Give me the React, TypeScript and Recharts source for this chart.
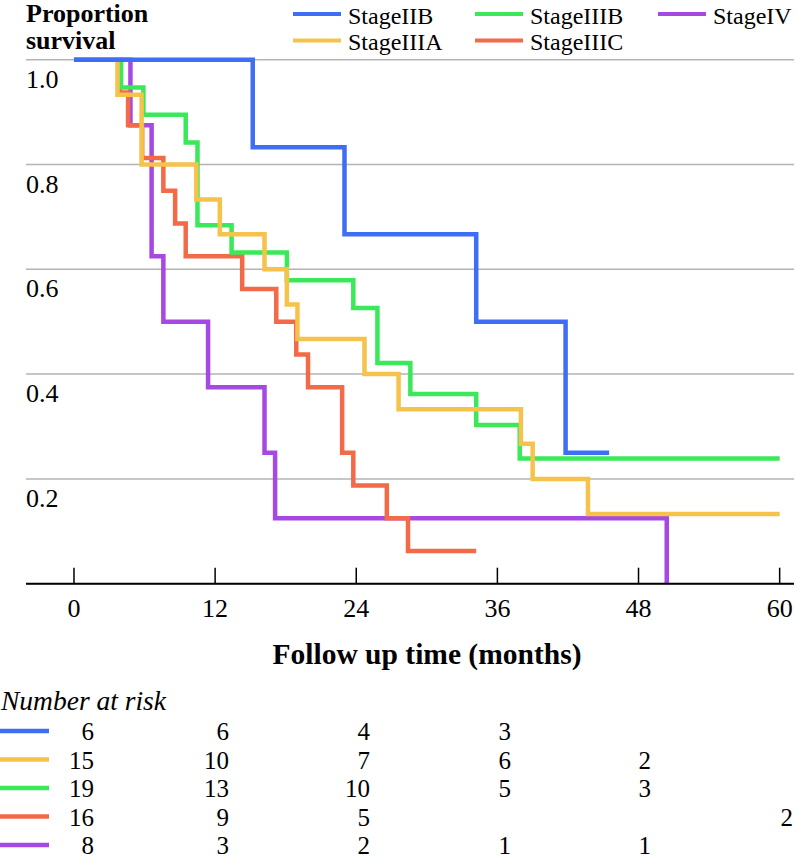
import { LineChart, Line, XAxis, YAxis, CartesianGrid } from "recharts";

// Kaplan-Meier curves, survival by stage (months)
const stageNames = ["StageIIB", "StageIIIA", "StageIIIB", "StageIIIC", "StageIV"];
const stageColors = ["#3d6ef5", "#f5c24c", "#3be85a", "#f26a47", "#a649e3"];

const iibTimes = [0, 15.2, 23, 34.2, 41.8, 45.5];
const iibSurv = [1, 0.833, 0.667, 0.5, 0.25, 0.25];

const iiiaTimes = [0, 3.7, 5.75, 10.4, 12.4, 16.2, 18.1, 19.0, 24.7, 27.6, 38.0, 39.0, 43.7, 60];
const iiiaSurv = [1, 0.933, 0.8, 0.733, 0.667, 0.6, 0.533, 0.467, 0.4, 0.333, 0.267, 0.2, 0.133, 0.133];

const iiibTimes = [0, 4.0, 5.9, 9.5, 10.5, 13.4, 18.1, 23.75, 25.8, 28.6, 34.2, 37.9, 60];
const iiibSurv = [1, 0.947, 0.895, 0.842, 0.684, 0.632, 0.579, 0.526, 0.421, 0.362, 0.303, 0.239, 0.239];

const iiicTimes = [0, 3.9, 4.6, 5.8, 7.6, 8.6, 9.5, 14.3, 17.2, 18.9, 19.9, 22.8, 23.75, 26.6, 28.4, 34.2];
const iiicSurv = [1, 0.9375, 0.875, 0.8125, 0.75, 0.6875, 0.625, 0.5625, 0.5, 0.4375, 0.375, 0.25, 0.1875, 0.125, 0.0625, 0.0625];

const ivTimes = [0, 4.8, 6.6, 7.6, 11.4, 16.2, 17.1, 50.4];
const ivSurv = [1, 0.875, 0.625, 0.5, 0.375, 0.25, 0.125, 0];

const xTicks = [0, 12, 24, 36, 48, 60];
const yTicks = [0.2, 0.4, 0.6, 0.8, 1.0];

// number at risk at 0/12/24/36/48/60 months
const riskIIB = [6, 6, 4, 3, null, null];
const riskIIIA = [15, 10, 7, 6, 2, null];
const riskIIIB = [19, 13, 10, 5, 3, null];
const riskIIIC = [16, 9, 5, null, null, 2];
const riskIV = [8, 3, 2, 1, 1, null];

const FONT = "'Liberation Serif', 'Times New Roman', serif";

function toSteps(times: number[], surv: number[]) {
  return times.map((t, i) => ({ t, s: surv[i] }));
}

const curves = [
  toSteps(iibTimes, iibSurv),
  toSteps(iiiaTimes, iiiaSurv),
  toSteps(iiibTimes, iiibSurv),
  toSteps(iiicTimes, iiicSurv),
  toSteps(ivTimes, ivSurv),
];
const riskRows = [riskIIB, riskIIIA, riskIIIB, riskIIIC, riskIV];

// right edge of each at-risk column
const riskColRight = [94, 229, 370, 511, 651, 793];

function XTick(props: any) {
  const { x, y, payload } = props;
  return (
    <g>
      <line x1={x} x2={x} y1={y - 16} y2={y} stroke="#000" strokeWidth={1.5} />
      <text x={x} y={y + 33} textAnchor="middle" fontFamily={FONT} fontSize={26} fill="#000">
        {payload.value}
      </text>
    </g>
  );
}

function YTick(props: any) {
  const { y, payload } = props;
  return (
    <text x={26} y={y + 28} textAnchor="start" fontFamily={FONT} fontSize={26} fill="#000">
      {Number(payload.value).toFixed(1)}
    </text>
  );
}

export default function App() {
  // draw order: StageIV first, StageIIB on top
  const order = [4, 3, 2, 1, 0];

  return (
    <div style={{ position: "relative", width: 796, height: 860, background: "#fff" }}>
      <style>{`body{margin:0;background:#fff}`}</style>
      <LineChart
        width={796}
        height={860}
        margin={{ top: 59.7, right: 2, bottom: 275.3, left: 26 }}
      >
        <CartesianGrid horizontal vertical={false} stroke="#b3b3b3" strokeWidth={1.5} />
        <XAxis
          type="number"
          dataKey="t"
          domain={[-4.08, 61.22]}
          ticks={xTicks}
          height={1}
          tickSize={0}
          tickMargin={0}
          tickLine={false}
          axisLine={{ stroke: "#000", strokeWidth: 2 }}
          tick={<XTick />}
          interval={0}
        />
        <YAxis
          type="number"
          domain={[0, 1]}
          ticks={yTicks}
          width={1}
          mirror
          tickSize={0}
          tickMargin={0}
          axisLine={false}
          tickLine={false}
          tick={<YTick />}
          interval={0}
        />
        {order.map((i) => (
          <Line
            key={stageNames[i]}
            data={curves[i]}
            dataKey="s"
            name={stageNames[i]}
            type="stepAfter"
            stroke={stageColors[i]}
            strokeWidth={4.5}
            dot={false}
            activeDot={false}
            isAnimationActive={false}
          />
        ))}
      </LineChart>

      <svg
        width={796}
        height={860}
        style={{ position: "absolute", left: 0, top: 0, pointerEvents: "none" }}
      >
        {/* y label */}
        <text x={26} y={22} fontFamily={FONT} fontWeight="bold" fontSize={26} fill="#000">
          Proportion
        </text>
        <text x={26} y={49} fontFamily={FONT} fontWeight="bold" fontSize={26} fill="#000">
          survival
        </text>

        {/* legend */}
        {stageNames.map((name, i) => {
          const col = [0, 0, 1, 1, 2][i];
          const row = [0, 1, 0, 1, 0][i];
          const lx = [293, 475, 658][col];
          const ly = [14, 40.5][row];
          return (
            <g key={name}>
              <line x1={lx} x2={lx + 48} y1={ly} y2={ly} stroke={stageColors[i]} strokeWidth={4} />
              <text x={lx + 55} y={ly + 9.5} fontFamily={FONT} fontSize={24} fill="#000">
                {name}
              </text>
            </g>
          );
        })}

        {/* x title */}
        <text x={427} y={664} textAnchor="middle" fontFamily={FONT} fontWeight="bold" fontSize={29.5} fill="#000">
          Follow up time (months)
        </text>

        {/* number at risk */}
        <text x={1} y={710} fontFamily={FONT} fontStyle="italic" fontSize={27.5} fill="#000">
          Number at risk
        </text>
        {riskRows.map((row, r) => {
          const cy = 731 + r * 28.5;
          return (
            <g key={r}>
              <line x1={0} x2={49} y1={cy} y2={cy} stroke={stageColors[r]} strokeWidth={4.5} />
              {row.map((v, c) =>
                v == null ? null : (
                  <text
                    key={c}
                    x={riskColRight[c]}
                    y={cy + 9}
                    textAnchor="end"
                    fontFamily={FONT}
                    fontSize={25}
                    fill="#000"
                  >
                    {v}
                  </text>
                )
              )}
            </g>
          );
        })}
      </svg>
    </div>
  );
}
